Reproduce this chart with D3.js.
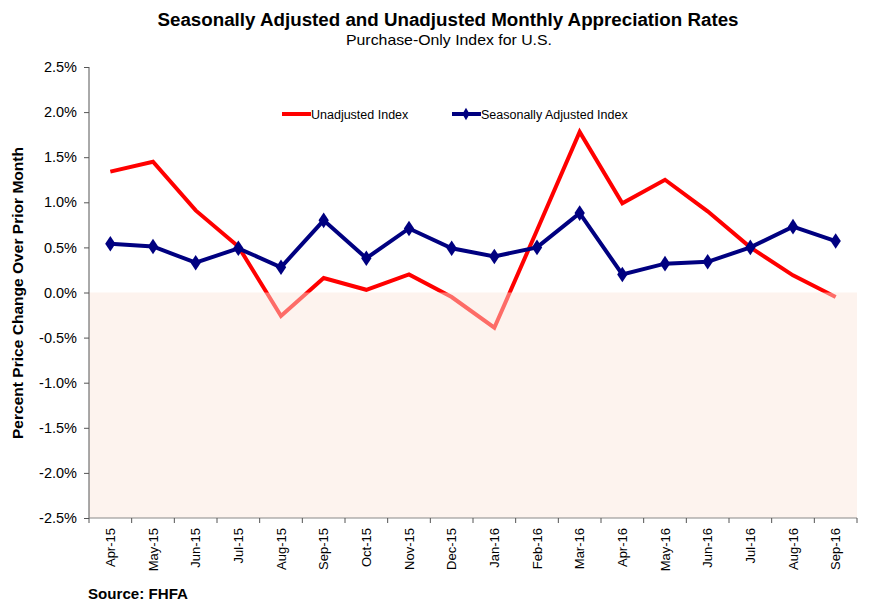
<!DOCTYPE html>
<html><head><meta charset="utf-8">
<script src="https://cdn.jsdelivr.net/npm/d3@7"></script>
<style>body{margin:0;background:#fff}svg{display:block}text{font-family:"Liberation Sans",Arial,sans-serif}</style>
</head><body>
<svg id="chart" width="870" height="608"></svg>
<script>
const months = ["Apr-15","May-15","Jun-15","Jul-15","Aug-15","Sep-15","Oct-15","Nov-15","Dec-15","Jan-16","Feb-16","Mar-16","Apr-16","May-16","Jun-16","Jul-16","Aug-16","Sep-16"];
const unadjusted = [1.34,1.45,0.91,0.51,-0.26,0.16,0.03,0.20,-0.05,-0.39,0.69,1.78,0.99,1.25,0.90,0.50,0.19,-0.05];
const seasonal = [0.54,0.51,0.33,0.49,0.28,0.80,0.38,0.71,0.49,0.40,0.50,0.88,0.20,0.32,0.34,0.50,0.73,0.57];
const yTicks = [2.5,2.0,1.5,1.0,0.5,0.0,-0.5,-1.0,-1.5,-2.0,-2.5];

const svg = d3.select("#chart");
const L=89,R=857,T=67,B=518;
const x = d3.scaleBand().domain(months).range([L,R]);
const y = d3.scaleLinear().domain([-2.5,2.5]).range([B,T]);
const cx = d => x(d)+x.bandwidth()/2;

// title
svg.append("text").attr("x",448).attr("y",26).attr("text-anchor","middle")
  .style("font-weight","bold").style("font-size","18px").attr("textLength",581).attr("lengthAdjust","spacingAndGlyphs")
  .text("Seasonally Adjusted and Unadjusted Monthly Appreciation Rates");
svg.append("text").attr("x",449).attr("y",45).attr("text-anchor","middle")
  .style("font-size","15px").attr("textLength",206).attr("lengthAdjust","spacingAndGlyphs")
  .text("Purchase-Only Index for U.S.");

// red line
const line = (arr) => d3.line().x((d,i)=>cx(months[i])).y(d=>y(d))(arr);
svg.append("path").attr("d",line(unadjusted)).attr("fill","none").attr("stroke","#ff0000").attr("stroke-width",4);

// shaded negative region (semi-transparent, over red line)
svg.append("rect").attr("x",L).attr("y",y(0)).attr("width",R-L).attr("height",B-y(0))
  .attr("fill","#fbe6db").attr("opacity",0.47);

// blue line
svg.append("path").attr("d",line(seasonal)).attr("fill","none").attr("stroke","#000080").attr("stroke-width",4);
svg.append("g").selectAll("path").data(seasonal).join("path")
  .attr("d",d3.symbol().type(d3.symbolDiamond).size(70))
  .attr("transform",(d,i)=>`translate(${cx(months[i])},${y(d)}) scale(1.15,1)`)
  .attr("fill","#000080");

// axes
const yAxis = svg.append("g").attr("transform",`translate(${L},0)`)
  .call(d3.axisLeft(y).tickValues(yTicks).tickSize(5).tickPadding(7).tickFormat(d=>d3.format(".1f")(d).replace("−","-")+"%"));
yAxis.select(".domain").attr("stroke","#555").attr("d",`M0,${T}V${B}`);
yAxis.selectAll(".tick line").attr("stroke","#555");
yAxis.selectAll(".tick text").style("font-size","14.5px").attr("fill","#000").style("font-family","Liberation Sans, Arial, sans-serif");

const xAxis = svg.append("g").attr("transform",`translate(0,${B})`)
  .call(d3.axisBottom(x).tickSize(0).tickSizeOuter(0));
xAxis.select(".domain").attr("stroke","#888").attr("d",`M${L},0H${R}`);
xAxis.selectAll(".tick text").attr("transform","rotate(-90)").attr("text-anchor","end")
  .attr("x",-10).attr("y",0).attr("dy","0.35em").style("font-size","13px").attr("fill","#000")
  .style("font-family","Liberation Sans, Arial, sans-serif");
// boundary tick marks
svg.append("g").selectAll("line").data(d3.range(months.length+1)).join("line")
  .attr("x1",i=>L+i*x.step()).attr("x2",i=>L+i*x.step()).attr("y1",B).attr("y2",B+5).attr("stroke","#555");

// y title
svg.append("text").attr("transform",`translate(23,293) rotate(-90)`).attr("text-anchor","middle")
  .style("font-weight","bold").style("font-size","15px").attr("textLength",292).attr("lengthAdjust","spacingAndGlyphs")
  .text("Percent Price Change Over Prior Month");

// legend
const lg = svg.append("g");
lg.append("line").attr("x1",282).attr("x2",311).attr("y1",114).attr("y2",114).attr("stroke","#ff0000").attr("stroke-width",4);
lg.append("text").attr("x",311).attr("y",118.5).style("font-size","12.5px").text("Unadjusted Index");
lg.append("line").attr("x1",452).attr("x2",481).attr("y1",114).attr("y2",114).attr("stroke","#000080").attr("stroke-width",4);
lg.append("path").attr("d",d3.symbol().type(d3.symbolDiamond).size(45)).attr("transform","translate(466,114)").attr("fill","#000080");
lg.append("text").attr("x",481).attr("y",118.5).style("font-size","12.5px").text("Seasonally Adjusted Index");

// source
svg.append("text").attr("x",88).attr("y",599).style("font-weight","bold").style("font-size","15px")
  .attr("textLength",100).attr("lengthAdjust","spacingAndGlyphs").text("Source: FHFA");
</script>
</body></html>
